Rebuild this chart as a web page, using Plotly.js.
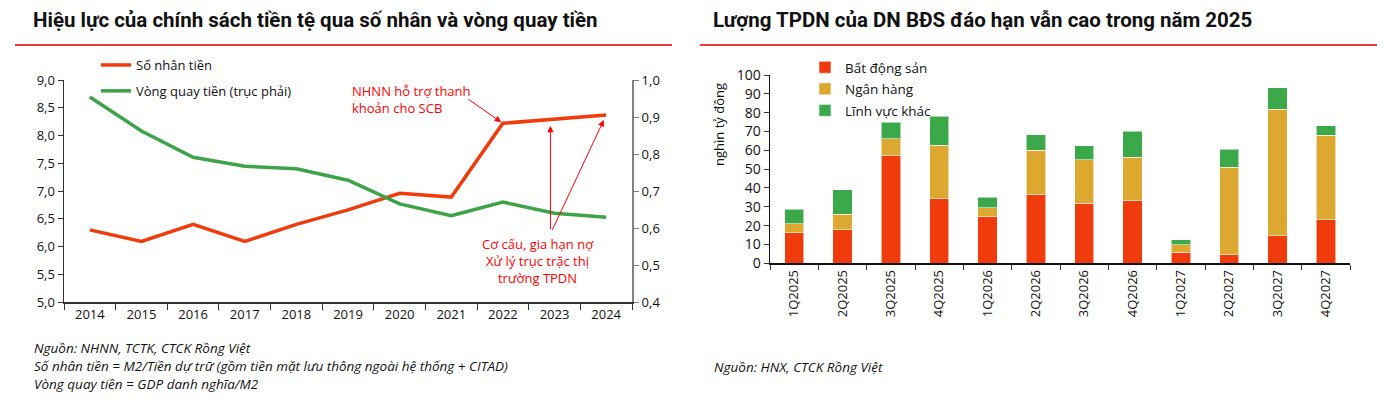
<!DOCTYPE html>
<html>
<head>
<meta charset="utf-8">
<script src="https://cdn.plot.ly/plotly-3.0.1.min.js"></script>
<style>
  html, body { margin: 0; padding: 0; background: #fff; }
  #chart { width: 1390px; height: 400px; }
</style>
</head>
<body>
<div id="chart"></div>
<script>
// left chart: money multiplier & velocity
var years = ['2014', '2015', '2016', '2017', '2018', '2019', '2020', '2021', '2022', '2023', '2024'];
var soNhanTien = [6.30, 6.09, 6.40, 6.09, 6.40, 6.66, 6.96, 6.89, 8.22, 8.30, 8.37];
var vongQuayTien = [0.954, 0.862, 0.791, 0.767, 0.760, 0.729, 0.665, 0.633, 0.670, 0.640, 0.629];

// right chart: bond maturities (nghìn tỷ đồng)
var quarters = ['1Q2025', '2Q2025', '3Q2025', '4Q2025', '1Q2026', '2Q2026', '3Q2026', '4Q2026', '1Q2027', '2Q2027', '3Q2027', '4Q2027'];
var batDongSan = [16.3, 17.9, 57.2, 34.3, 24.8, 36.5, 32.0, 33.1, 5.8, 4.6, 14.7, 23.0];
var nganHang = [4.8, 8.1, 9.0, 28.4, 4.6, 23.5, 22.9, 23.2, 4.1, 46.4, 67.2, 45.0];
var linhVucKhac = [7.7, 13.1, 8.7, 15.4, 5.8, 8.3, 7.4, 13.8, 2.5, 9.7, 11.4, 5.1];

var W = 1390, H = 400;
function px(x) { return x / W; }
function py(y) { return (H - y) / H; }

var FONT = 'Open Sans, sans-serif';
var RED = '#F03C0C', GREEN = '#3DA346', YELLOW = '#DCA830', BARGREEN = '#3BA84A';

var trace1 = {
  x: years, y: soNhanTien, name: 'Số nhân tiền', type: 'scatter', mode: 'lines',
  line: {color: RED, width: 3.5}, xaxis: 'x', yaxis: 'y',
  legend: 'legend', legendgroup: 'a'
};
var trace2 = {
  x: years, y: vongQuayTien, name: 'Vòng quay tiền (trục phải)', type: 'scatter', mode: 'lines',
  line: {color: GREEN, width: 3.5}, xaxis: 'x', yaxis: 'y2',
  legend: 'legend', legendgroup: 'b'
};

var barLine = {color: 'rgba(255,255,255,0.55)', width: 1};
var trace3 = {
  x: quarters, y: batDongSan, name: 'Bất động sản', type: 'bar',
  marker: {color: RED, line: barLine}, xaxis: 'x3', yaxis: 'y3',
  legend: 'legend2', legendgroup: 'c'
};
var trace4 = {
  x: quarters, y: nganHang, name: 'Ngân hàng', type: 'bar',
  marker: {color: YELLOW, line: barLine}, xaxis: 'x3', yaxis: 'y3',
  legend: 'legend2', legendgroup: 'd'
};
var trace5 = {
  x: quarters, y: linhVucKhac, name: 'Lĩnh vực khác', type: 'bar',
  marker: {color: BARGREEN, line: barLine}, xaxis: 'x3', yaxis: 'y3',
  legend: 'legend2', legendgroup: 'e'
};

var data = [trace1, trace2, trace3, trace4, trace5];

var tickFont = {family: FONT, size: 13, color: '#111'};

function note(text, x, y, opts) {
  var a = {
    text: text, xref: 'paper', yref: 'paper', x: px(x), y: py(y),
    xanchor: 'left', yanchor: 'middle', showarrow: false, align: 'left',
    font: {family: FONT, size: 13.5, color: '#111'}
  };
  for (var k in opts) a[k] = opts[k];
  return a;
}

function arrow(x, y, ax, ay) {
  return {
    x: x, y: y, xref: 'x', yref: 'y', ax: ax, ay: ay, text: '',
    showarrow: true, arrowhead: 2, arrowsize: 1.3, arrowwidth: 1,
    arrowcolor: '#FF0000', standoff: 2
  };
}

var titleFont = {family: 'Roboto, sans-serif', size: 20.5, color: '#111'};

var annotations = [
  note('<b>Hiệu lực của chính sách tiền tệ qua số nhân và vòng quay tiền</b>', 31, 20, {font: titleFont}),
  note('<b>Lượng TPDN của DN BĐS đáo hạn vẫn cao trong năm 2025</b>', 711, 20, {font: titleFont}),
  note('<i>Nguồn: NHNN, TCTK, CTCK Rồng Việt</i>', 32, 348),
  note('<i>Số nhân tiền = M2/Tiền dự trữ (gồm tiền mặt lưu thông ngoài hệ thống + CITAD)</i>', 32, 366),
  note('<i>Vòng quay tiền = GDP danh nghĩa/M2</i>', 32, 384),
  note('<i>Nguồn: HNX, CTCK Rồng Việt</i>', 712, 367),
  note('nghìn tỷ đồng', 719, 125,
       {textangle: -90, xanchor: 'center', font: {family: FONT, size: 13, color: '#111'}}),
  note('NHNN hỗ trợ thanh<br>khoản cho SCB', 350, 99,
       {font: {family: FONT, size: 13, color: '#FF0000'}}),
  note('Cơ cấu, gia hạn nợ<br>Xử lý trục trặc thị<br>trường TPDN', 538, 261,
       {xanchor: 'center', align: 'center', font: {family: FONT, size: 13, color: '#FF0000'}}),
  arrow(8, 8.22, -36, -25),
  arrow(8.92, 8.21, 0, 107),
  arrow(9.97, 8.31, -53, 113)
];

var shapes = [
  {type: 'line', xref: 'paper', yref: 'paper', x0: px(15), x1: px(672), y0: py(45), y1: py(45),
   line: {color: '#EE3B3B', width: 2}},
  {type: 'line', xref: 'paper', yref: 'paper', x0: px(700), x1: px(1377), y0: py(45), y1: py(45),
   line: {color: '#EE3B3B', width: 2}}
];

var layout = {
  width: W, height: H,
  margin: {l: 0, r: 0, t: 0, b: 0},
  paper_bgcolor: '#fff', plot_bgcolor: 'rgba(0,0,0,0)',
  separators: ',.',
  font: {family: FONT, size: 13, color: '#111'},
  barmode: 'stack', bargap: 0.6,
  xaxis: {
    domain: [px(64), px(632)], anchor: 'y', type: 'category', range: [-0.5, 10.5],
    tickson: 'boundaries', ticks: 'outside', ticklen: 6, tickcolor: '#333',
    showline: true, linecolor: '#333', linewidth: 1.5, showgrid: false, zeroline: false,
    tickfont: tickFont
  },
  yaxis: {
    domain: [py(302), py(80)], anchor: 'x', range: [5, 9], dtick: 0.5, tickformat: '.1f',
    ticks: 'outside', ticklen: 5, tickcolor: '#333', showline: true, linecolor: '#333',
    linewidth: 1.5, showgrid: false, zeroline: false, tickfont: tickFont
  },
  yaxis2: {
    overlaying: 'y', side: 'right', anchor: 'x', range: [0.4, 1.0], dtick: 0.1, tickformat: '.1f',
    ticks: 'outside', ticklen: 5, tickcolor: '#808080', showline: true, linecolor: '#808080',
    linewidth: 2, showgrid: false, zeroline: false, tickfont: tickFont
  },
  xaxis3: {
    domain: [px(770), px(1350)], anchor: 'y3', type: 'category',
    tickson: 'boundaries', ticks: 'outside', ticklen: 5, tickcolor: '#333', tickangle: -90,
    showline: true, linecolor: '#111', linewidth: 1.5, showgrid: false, zeroline: false,
    tickfont: {family: FONT, size: 13, color: '#111'}
  },
  yaxis3: {
    domain: [py(263.3), py(75)], anchor: 'x3', range: [0, 100], dtick: 10,
    ticks: 'outside', ticklen: 5, tickcolor: '#333', showline: true, linecolor: '#111',
    linewidth: 1.5, showgrid: false, zeroline: false,
    tickfont: {family: FONT, size: 14, color: '#111'}
  },
  legend: {
    x: px(96), y: py(50), xanchor: 'left', yanchor: 'top',
    traceorder: 'grouped', tracegroupgap: 6, bgcolor: 'rgba(0,0,0,0)',
    font: {family: FONT, size: 13, color: '#111'}
  },
  legend2: {
    x: px(805), y: py(52), xanchor: 'left', yanchor: 'top',
    traceorder: 'grouped', tracegroupgap: 1, bgcolor: 'rgba(0,0,0,0)',
    font: {family: FONT, size: 13.5, color: '#111'}
  },
  annotations: annotations,
  shapes: shapes
};

Plotly.newPlot('chart', data, layout, {displayModeBar: false, staticPlot: true});
</script>
</body>
</html>
